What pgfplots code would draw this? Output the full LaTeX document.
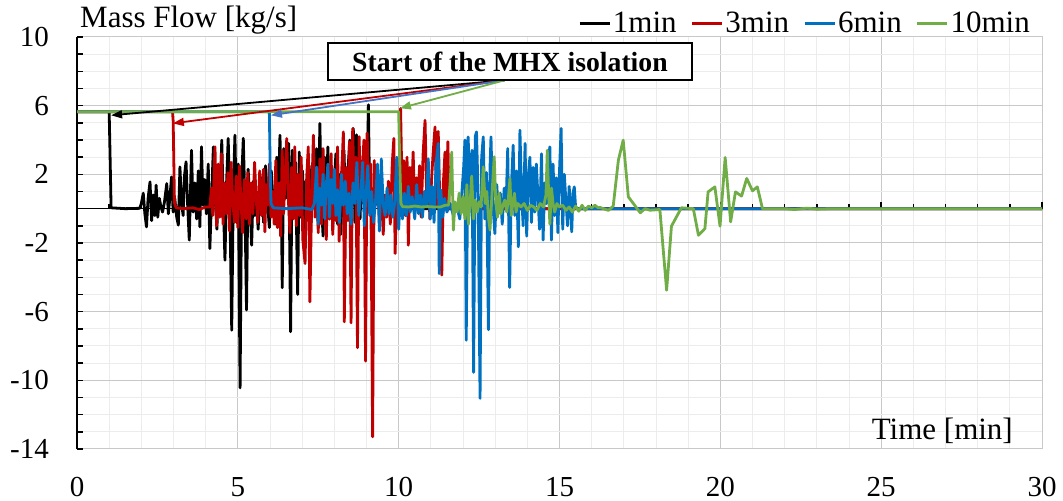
\documentclass[border=0pt]{standalone}
\usepackage{pgfplots}
\pgfplotsset{compat=1.18}
\usetikzlibrary{arrows.meta}
\usepackage{fontspec}
\setmainfont{Liberation Serif}

\definecolor{cBlack}{RGB}{0,0,0}
\definecolor{cRed}{RGB}{192,0,0}
\definecolor{cBlue}{RGB}{0,112,192}
\definecolor{cGreen}{RGB}{112,173,71}
\definecolor{cArrowBlue}{RGB}{68,114,196}
\definecolor{gridMajor}{RGB}{200,200,200}
\definecolor{gridMinor}{RGB}{236,236,236}

\newcommand\fs{\fontsize{29bp}{34bp}\selectfont}
\newcommand\fl{\fontsize{31bp}{36bp}\selectfont}

\begin{document}
\begin{tikzpicture}
\path[use as bounding box] (0,0) rectangle (1063bp,501bp);
\begin{axis}[
  at={(77bp,52bp)}, anchor=south west,
  scale only axis, width=965bp, height=412bp,
  xmin=0, xmax=30, ymin=-14, ymax=10,
  clip=false,
  xtick={0,5,...,30}, xticklabels={0,5,10,15,20,25,30},
  ytick={-14,-10,...,10}, yticklabels={-14,-10,-6,-2,2,6,10},
  minor x tick num=4, minor y tick num=3,
  grid=both,
  major grid style={draw=gridMajor, line width=1bp},
  minor grid style={draw=gridMinor, line width=1bp},
  tick style={draw=none},
  axis line style={draw=gridMajor, line width=1bp},
  yticklabel style={font=\fs, anchor=east, inner sep=0pt, xshift=-28bp},
  xticklabel style={font=\fs, anchor=north, inner sep=0pt, yshift=-28bp},
  ylabel={Mass Flow [kg/s]},
  ylabel style={font=\fl, rotate=-90, at={(axis description cs:0,1)}, anchor=base west, inner sep=0pt, xshift=3bp, yshift=9bp},
  xlabel={Time [min]},
  xlabel style={font=\fl, at={(axis description cs:1,0)}, anchor=base east, inner sep=0pt, xshift=-29bp, yshift=9bp},
  legend columns=4,
  legend style={at={(axis description cs:0.9896,1.0655)}, anchor=north east,
    draw=none, fill=none, inner sep=0pt, font=\fl,
    nodes={inner sep=2bp},
    /tikz/every even column/.append style={column sep=12bp}},
  legend image code/.code={\draw[#1] (0bp,0bp) -- (30bp,0bp);},
  every axis plot/.append style={line width=2.8bp, line join=round},
]

% axis line at zero and the inward ticks
\draw[black, line width=1.6bp] (axis cs:0,0) -- (axis cs:30,0);
\pgfplotsinvokeforeach{1,2,3,4,6,7,8,9,11,12,13,14,16,17,18,19,21,22,23,24,26,27,28,29}{
  \draw[black, line width=1.6bp] (axis cs:#1,0) -- ++(0bp,5bp);}
\pgfplotsinvokeforeach{5,10,15,20,25,30}{
  \draw[black, line width=1.6bp] (axis cs:#1,0) -- ++(0bp,7bp);}
\draw[black, line width=1.8bp] (axis cs:0,-14) -- (axis cs:0,10);
\pgfplotsinvokeforeach{-14,...,10}{
  \draw[black, line width=1.6bp] (axis cs:0,#1) -- ++(6bp,0bp);}

% 1 min
\addplot[cBlack] coordinates {
(0,5.65) (1.0,5.65) (1.03,2.9) (1.06,0.05) (1.5,0.0) (1.95,0.02)
(2.0,0.3) (2.06,0.9) (2.11,-0.3) (2.16,-1.06) (2.21,0.6) (2.27,1.56) (2.32,-0.7) (2.37,0.8) (2.42,-0.4) (2.46,1.37)
(2.51,-0.5) (2.56,0.6) (2.61,0.1) (2.66,-0.2) (2.72,0.4) (2.79,1.46) (2.84,-0.3) (2.88,0.5) (2.94,1.85) (2.99,-0.2)
(3.04,0.6) (3.1,-0.5) (3.15,-0.96) (3.2,2.43) (3.25,0.3) (3.3,-0.4) (3.34,1.9) (3.39,2.73) (3.44,0.2) (3.49,-1.83)
(3.53,1.2) (3.56,3.4) (3.61,-0.2) (3.66,1.5) (3.72,-0.6) (3.77,2.2) (3.82,-1.06) (3.87,3.6) (3.92,0.2) (3.97,1.7)
(4.02,-0.3) (4.08,2.6) (4.13,-2.33) (4.19,1.0) (4.24,3.6) (4.3,0.5) (4.35,-1.2) (4.4,2.0) (4.45,0.7) (4.5,3.99)
(4.55,0.2) (4.6,-3.0) (4.65,1.5) (4.7,4.09) (4.75,0.5) (4.81,-7.08) (4.86,1.2) (4.91,4.28) (4.96,-0.8) (5.01,2.6)
(5.07,-10.44) (5.12,1.7) (5.17,4.1) (5.22,0.3) (5.27,-5.9) (5.32,2.3) (5.37,0.6) (5.43,-2.13) (5.48,1.6) (5.53,-0.4)
(5.58,0.9) (5.63,-1.2) (5.68,0.5) (5.74,1.8) (5.8,-0.8) (5.86,2.5) (5.92,0.4) (5.98,-1.1) (6.04,2.2) (6.1,0.3)
(6.16,-0.9) (6.21,3.0) (6.26,0.8) (6.31,4.28) (6.35,1.0) (6.38,-4.6) (6.43,3.5) (6.48,0.6) (6.53,2.4) (6.58,3.8)
(6.64,-7.17) (6.69,3.4) (6.74,0.5) (6.79,2.7) (6.86,-5.0) (6.91,3.3) (6.96,-0.5) (7.01,2.2) (7.06,-1.2) (7.11,1.6)
(7.17,-0.6) (7.22,2.5) (7.28,-0.8) (7.33,1.8) (7.39,0.4) (7.45,3.5) (7.5,-1.0) (7.55,4.96) (7.6,0.3) (7.65,-1.6)
(7.7,3.0) (7.75,0.8) (7.8,3.6) (7.85,-0.6) (7.9,2.5) (7.95,-1.1) (8.0,1.7) (8.05,3.2) (8.1,-0.9) (8.15,2.0)
(8.2,-1.5) (8.25,1.3) (8.3,3.4) (8.36,-0.5) (8.42,2.1) (8.48,4.0) (8.53,0.4) (8.59,4.67) (8.64,-0.8) (8.69,4.3)
(8.75,1.0) (8.8,-0.6) (8.85,2.4) (8.9,0.3) (8.95,1.2) (9.0,-0.3) (9.06,6.05) (9.1,0.2) (9.2,-0.3) (9.3,0.5)
(9.4,0.1) (9.5,-0.2) (9.6,0.1) (9.8,0) (30,0)
};
\addlegendentry{1min}

% 3 min
\addplot[cRed] coordinates {
(0,5.65) (2.97,5.65) (2.99,5.1) (3.03,0.35) (3.08,0.05) (3.3,0.0) (3.6,0.05) (3.8,-0.05) (4.0,0.1)
(4.13,0.1) (4.18,1.2) (4.22,-0.4) (4.29,3.6) (4.34,-1.0) (4.39,2.6) (4.44,-0.5) (4.49,3.2) (4.54,-0.9) (4.59,1.5)
(4.64,-0.3) (4.69,2.1) (4.74,-1.3) (4.79,2.7) (4.85,0.2) (4.9,-0.8) (4.95,1.9) (5.0,-1.1) (5.05,2.5) (5.1,0.3)
(5.15,-1.4) (5.2,1.7) (5.26,-0.6) (5.31,2.1) (5.36,-0.9) (5.41,1.5) (5.47,-0.3) (5.52,2.7) (5.57,0.6) (5.62,-0.8)
(5.68,2.2) (5.74,-0.4) (5.8,2.3) (5.84,-1.35) (5.88,1.4) (5.93,0.2) (5.98,2.6) (6.03,-0.5) (6.08,1.0) (6.13,-0.9)
(6.18,2.8) (6.23,-1.1) (6.28,1.5) (6.33,-1.6) (6.38,3.4) (6.42,-0.3) (6.47,1.8) (6.52,4.09) (6.57,0.6) (6.62,-1.4)
(6.67,2.4) (6.72,-0.6) (6.77,3.6) (6.82,-1.0) (6.87,2.0) (6.92,-0.4) (6.97,3.0) (7.02,-1.8) (7.09,-3.2) (7.14,1.8)
(7.19,3.6) (7.24,-5.43) (7.3,1.0) (7.35,4.28) (7.4,-0.5) (7.45,1.6) (7.5,-1.4) (7.55,2.9) (7.6,-0.9) (7.65,3.5)
(7.7,0.4) (7.75,-1.8) (7.8,2.5) (7.85,-0.6) (7.9,3.2) (7.95,-1.5) (8.0,2.0) (8.05,-0.7) (8.1,3.6) (8.15,-1.9)
(8.2,1.2) (8.25,3.0) (8.28,4.47) (8.31,-6.59) (8.37,2.4) (8.42,-0.7) (8.47,3.9) (8.52,-6.65) (8.57,4.67) (8.62,0.8)
(8.67,3.0) (8.72,-8.1) (8.77,4.2) (8.82,0.5) (8.87,2.2) (8.92,4.0) (8.97,-8.88) (9.02,4.4) (9.07,0.6) (9.13,2.6)
(9.19,-13.29) (9.24,2.8) (9.29,0.3) (9.35,1.8) (9.4,-0.8) (9.46,1.2) (9.52,-1.5) (9.57,0.8) (9.63,-0.5) (9.68,1.6)
(9.74,-0.9) (9.8,2.6) (9.85,4.09) (9.89,-2.61) (9.94,1.1) (10.0,-0.6) (10.06,5.84) (10.11,0.5) (10.16,2.8) (10.21,-0.4)
(10.26,3.0) (10.3,-2.13) (10.35,2.4) (10.4,0.6) (10.45,3.3) (10.5,-0.3) (10.55,1.8) (10.6,0.4) (10.65,2.5) (10.7,-0.5)
(10.76,3.2) (10.82,5.15) (10.87,0.8) (10.92,2.4) (10.97,-0.6) (11.02,1.6) (11.07,3.2) (11.13,4.76) (11.18,0.2) (11.23,4.5)
(11.29,-0.5) (11.34,-3.87) (11.39,1.5) (11.44,3.3) (11.47,0.0) (11.53,3.9) (11.57,0.0) (11.7,0) (30,0)
};
\addlegendentry{3min}

% 6 min
\addplot[cBlue] coordinates {
(0,5.65) (5.98,5.65) (6.0,3.0) (6.03,0.3) (6.1,0.05) (6.5,0.0) (7.0,0.05) (7.3,-0.05) (7.38,0.3) (7.45,2.43)
(7.5,-0.9) (7.55,1.2) (7.6,0.2) (7.65,2.0) (7.7,-0.6) (7.75,1.4) (7.8,2.6) (7.85,-0.5) (7.9,1.7) (7.95,0.3)
(8.0,2.3) (8.05,-0.4) (8.1,1.1) (8.16,-0.8) (8.22,2.0) (8.28,0.2) (8.34,1.6) (8.4,-0.3) (8.46,0.9) (8.52,-0.9)
(8.58,1.5) (8.64,0.3) (8.7,2.7) (8.76,-0.4) (8.82,0.8) (8.88,2.7) (8.93,-1.0) (8.98,0.6) (9.04,2.5) (9.1,-0.4)
(9.16,1.0) (9.22,-0.8) (9.28,0.4) (9.34,2.6) (9.4,-1.3) (9.46,2.9) (9.52,0.2) (9.58,-0.4) (9.64,1.2) (9.7,-0.3)
(9.76,0.8) (9.82,-0.5) (9.88,0.4) (9.94,3.0) (10.0,-1.2) (10.06,1.2) (10.12,-0.6) (10.18,0.9) (10.24,-0.4) (10.3,1.3)
(10.36,-0.2) (10.42,0.7) (10.5,-0.6) (10.56,1.4) (10.62,-0.3) (10.68,0.8) (10.74,-0.5) (10.8,1.0) (10.86,0.1) (10.92,2.9)
(10.98,-0.6) (11.04,1.3) (11.1,-0.8) (11.16,2.6) (11.23,3.8) (11.26,-3.78) (11.31,1.1) (11.37,-0.5) (11.43,0.6) (11.5,-0.2)
(11.6,0.3) (11.7,-0.4) (11.8,0.2) (11.9,-0.6) (11.96,0.8) (12.02,2.4) (12.06,4.0) (12.1,-7.66) (12.16,4.18) (12.22,0.5)
(12.28,3.4) (12.33,-9.54) (12.38,4.2) (12.42,4.47) (12.47,0.8) (12.53,-11.05) (12.58,3.0) (12.63,4.18) (12.68,-0.6) (12.73,2.1)
(12.79,-7.05) (12.84,2.4) (12.87,4.18) (12.92,0.5) (12.99,-1.45) (13.05,1.4) (13.1,-0.3) (13.16,0.9) (13.22,-0.9) (13.28,1.2)
(13.34,0.2) (13.39,3.5) (13.45,-4.59) (13.5,1.1) (13.56,3.7) (13.61,-0.4) (13.66,2.2) (13.72,-2.22) (13.77,4.57) (13.82,0.9)
(13.87,-1.0) (13.93,3.8) (13.98,-1.6) (14.03,1.9) (14.08,3.0) (14.13,-0.8) (14.18,2.4) (14.23,-0.2) (14.28,2.6) (14.33,0.7)
(14.38,-1.2) (14.44,3.2) (14.49,-1.83) (14.54,1.5) (14.6,0.3) (14.65,2.8) (14.7,3.6) (14.75,-1.83) (14.8,2.6) (14.85,-0.4)
(14.9,1.8) (14.95,-1.4) (15.0,2.2) (15.05,4.67) (15.1,-1.2) (15.15,2.0) (15.2,0.4) (15.25,-1.0) (15.3,1.3) (15.34,0.2)
(15.38,-1.35) (15.42,0.9) (15.46,1.27) (15.5,0.1) (15.55,0.0) (30,0)
};
\addlegendentry{6min}

% 10 min
\addplot[cGreen] coordinates {
(0,5.65) (10.0,5.65) (10.03,3.0) (10.07,0.3) (10.12,0.12) (10.3,0.1) (10.5,0.15) (10.7,0.1) (10.9,0.12) (11.1,0.1)
(11.3,0.1) (11.45,0.2) (11.55,0.2) (11.6,1.5) (11.65,3.3) (11.7,-1.25) (11.75,0.4) (11.82,-0.2) (11.88,0.9) (11.94,-0.3)
(12.0,0.7) (12.06,-0.6) (12.12,1.4) (12.17,-0.9) (12.22,0.3) (12.27,1.9) (12.33,-0.6) (12.38,0.5) (12.44,-0.2) (12.5,0.4)
(12.56,0.1) (12.63,2.44) (12.69,0.3) (12.74,1.0) (12.79,-0.5) (12.84,-1.25) (12.9,0.8) (12.97,3.02) (13.02,0.4) (13.07,-0.5)
(13.12,0.9) (13.18,-0.3) (13.24,0.2) (13.3,0.5) (13.36,-0.2) (13.41,0.6) (13.46,1.76) (13.5,-0.4) (13.55,0.3) (13.6,0.9)
(13.65,-0.2) (13.7,0.3) (13.8,0.1) (13.9,0.3) (14.0,-0.1) (14.1,0.2) (14.2,0.1) (14.3,-0.1) (14.4,0.3) (14.5,0.1)
(14.58,0.8) (14.62,3.4) (14.66,1.0) (14.7,-0.9) (14.75,1.2) (14.8,0.3) (14.85,-0.2) (14.92,0.3) (15.0,0.1) (15.1,0.2)
(15.2,-0.1) (15.3,0.1) (15.4,-0.2) (15.5,0.15) (15.6,-0.15) (15.7,0.2) (15.8,-0.1) (15.9,0.15) (16.0,0.05) (16.1,0.2)
(16.2,0.05) (16.26,0.07) (16.52,-0.1) (16.67,0.15) (16.83,2.82) (16.98,3.99) (17.14,0.69) (17.51,-0.24) (17.66,0.0) (17.81,-0.09)
(18.12,-0.05) (18.33,-4.75) (18.48,-1.02) (18.79,0.05) (19.16,0) (19.32,-1.55) (19.52,-1.16) (19.62,0.98) (19.83,1.27) (19.99,-1.02)
(20.15,2.98) (20.32,-0.77) (20.47,0.98) (20.66,0.73) (20.82,1.76) (21.0,1.04) (21.15,1.27) (21.31,0.0) (22.0,0) (22.3,-0.05)
(22.7,0.03) (23.0,-0.03) (23.5,0) (30,0)
};
\addlegendentry{10min}

% annotation: start of the isolation for each run
\draw[cBlack, line width=1.8bp, -{Triangle[length=11bp,width=8bp]}] (axis cs:13.3,7.48) -- (axis cs:1.06,5.44);
\draw[cRed, line width=1.8bp, -{Triangle[length=11bp,width=8bp]}] (axis cs:13.3,7.48) -- (axis cs:2.98,4.97);
\draw[cArrowBlue, line width=1.8bp, -{Triangle[length=11bp,width=8bp]}] (axis cs:13.3,7.48) -- (axis cs:6.03,5.44);
\draw[cGreen, line width=1.8bp, -{Triangle[length=11bp,width=8bp]}] (axis cs:13.3,7.48) -- (axis cs:10.04,5.85);
\node[draw=black, line width=1.8bp, fill=white, inner sep=0pt, minimum width=364bp, minimum height=37bp,
  font=\bfseries\fontsize{27.7bp}{32bp}\selectfont] at (axis cs:13.46,8.56) {Start of the MHX isolation};
\end{axis}
\end{tikzpicture}
\end{document}
